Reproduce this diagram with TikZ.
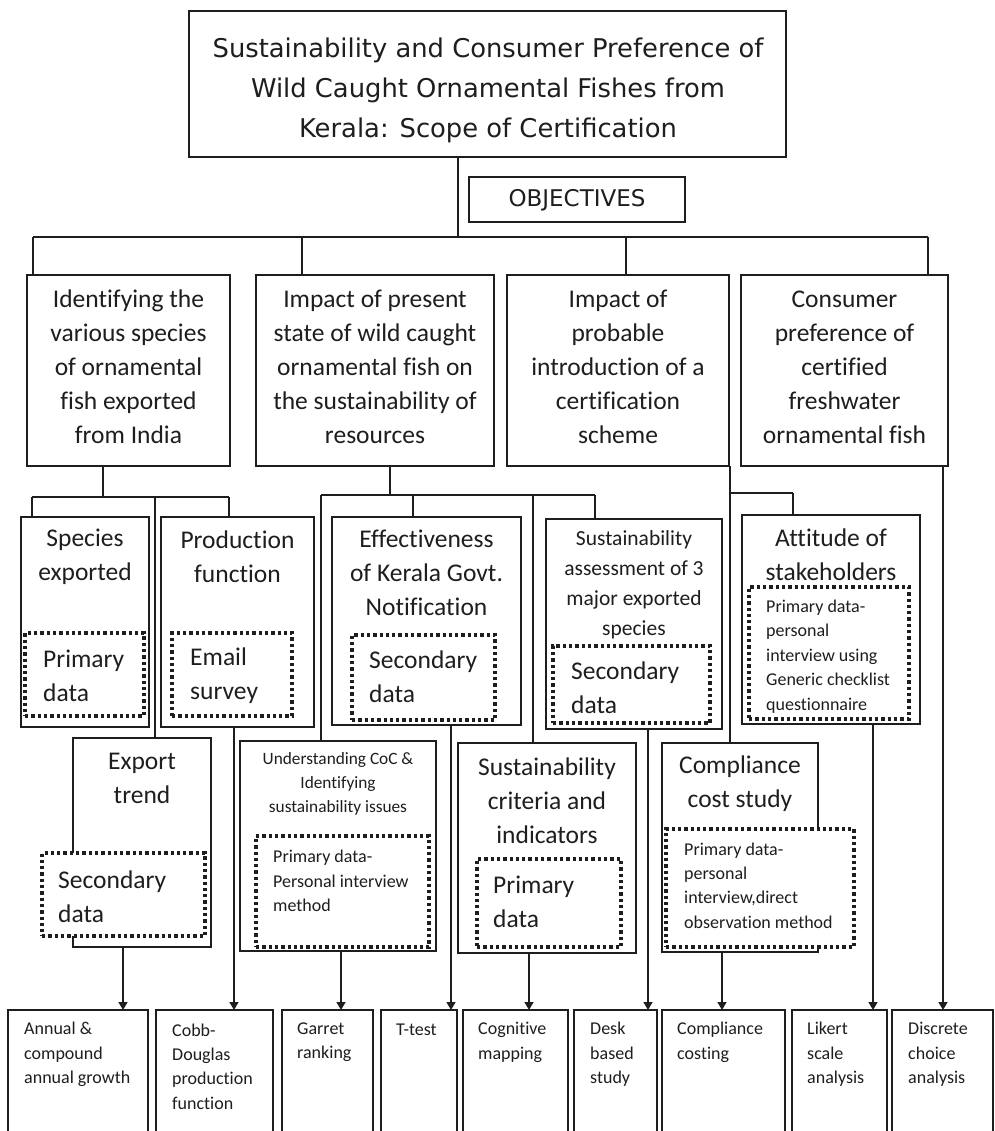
\documentclass[tikz,border=0pt]{standalone}
\usepackage{fontspec}
\setmainfont{Carlito}[Ligatures=NoCommon]
\newfontfamily\titlefont{DejaVu Sans}
\usetikzlibrary{arrows.meta}
\definecolor{ink}{HTML}{1E1E1E}
\newcommand\mybox[6][]{\node[bx,#1,minimum width={(#5-#3)*1pt},minimum height={(#6-#4)*1pt}] (#2) at ({(#3+#5)/2},{(#4+#6)/2}) {};}
\begin{document}
\begin{tikzpicture}[x=1pt,y=-1pt,
  bx/.style={draw=ink,line width=2.6pt,inner sep=0pt,outer sep=0pt,fill=white},
  dotbox/.style={draw=ink,line width=3.3pt,dash pattern=on 3.3pt off 3pt},
  con/.style={draw=ink,line width=1.4pt},
  arr/.style={con,-{Triangle[length=8pt,width=9pt]}},
  ttl/.style={font=\titlefont\fontsize{25.8}{40}\selectfont,text=ink,inner sep=0pt,align=center},
  big/.style={font=\fontsize{25.5}{34}\selectfont,text=ink,inner sep=0pt,align=center},
  bigl/.style={big,align=left,anchor=west},
  mid/.style={font=\fontsize{21.5}{30}\selectfont,text=ink,inner sep=0pt,align=center},
  sml/.style={font=\fontsize{17.3}{24}\selectfont,text=ink,inner sep=0pt,align=center},
  smll/.style={font=\fontsize{18}{24.4}\selectfont,text=ink,inner sep=0pt,align=left,anchor=west},
]
\useasboundingbox (0,0) rectangle (994,1131);

% ---------- boxes ----------
\mybox{T}{189}{11}{786}{157}
\mybox{OBJ}{469}{177}{685}{222}
\mybox{O1}{27}{275}{230}{466}
\mybox{O2}{256}{275}{494}{466}
\mybox{O3}{507}{275}{729}{466}
\mybox{O4}{741}{275}{948}{466}

\mybox{S1}{21}{517}{149}{727}
\mybox{S2}{161}{517}{314}{727}
\mybox{S3}{332}{517}{521}{725}
\mybox{S4}{546}{519}{722}{729}
\mybox{S5}{742}{515}{920}{724}
\mybox{E}{73}{738}{211}{947}
\mybox{U}{240}{741}{436}{951}
\mybox{C}{458}{743}{636}{953}
\mybox{K}{662}{743}{818}{952}

\mybox{B1}{8}{1010}{148}{1145}
\mybox{B2}{156}{1010}{273}{1145}
\mybox{B3}{282}{1010}{373}{1145}
\mybox{B4}{381}{1010}{457}{1145}
\mybox{B5}{463}{1010}{568}{1145}
\mybox{B6}{574}{1010}{657}{1145}
\mybox{B7}{662}{1010}{785}{1145}
\mybox{B8}{792}{1010}{887}{1145}
\mybox{B9}{892}{1010}{993}{1145}

% ---------- dotted boxes ----------
\mybox[dotbox]{D1}{25}{633}{144}{716}
\mybox[dotbox]{D2}{172}{633}{292}{716}
\mybox[dotbox]{D3}{352}{635}{495}{720}
\mybox[dotbox]{D4}{553}{646}{710}{723}
\mybox[dotbox]{D5}{749}{587}{909}{719}
\mybox[dotbox]{DE}{42}{853}{205}{936}
\mybox[dotbox]{DU}{256}{836}{429}{947}
\mybox[dotbox]{DC}{477}{859}{621}{947}
\mybox[dotbox]{DK}{666}{829}{854}{947}

% ---------- connector coordinates ----------
\coordinate (J0) at (458,237);
\coordinate (Ja) at (33,237);
\coordinate (Jb) at (302,237);
\coordinate (Jc) at (626,237);
\coordinate (Jd) at (928,237);
\coordinate (K1) at (103,497);
\coordinate (K1a) at (32,497);
\coordinate (K1m) at (155,497);
\coordinate (K1b) at (229,497);
\coordinate (K2) at (390,495);
\coordinate (K2a) at (321,495);
\coordinate (K2e) at (413,495);
\coordinate (K2c) at (533,495);
\coordinate (K2b) at (595,495);
\coordinate (K3) at (730,493);
\coordinate (K3b) at (793,493);
\coordinate (x1) at (123,0);
\coordinate (x2) at (234,0);
\coordinate (x3) at (341,0);
\coordinate (x4) at (451,0);
\coordinate (x5) at (529,0);
\coordinate (x6) at (648,0);
\coordinate (x7) at (722,0);
\coordinate (x8) at (873,0);
\coordinate (x9) at (943,0);

% ---------- connectors ----------
\draw[con] (T.south -| J0) -- (J0);
\draw[con] (Ja) -- (Jd);
\draw[con] (Ja) -- (Ja |- O1.north);
\draw[con] (Jb) -- (Jb |- O2.north);
\draw[con] (Jc) -- (Jc |- O3.north);
\draw[con] (Jd) -- (Jd |- O4.north);

\draw[con] (O1.south -| K1) -- (K1);
\draw[con] (K1a) -- (K1b);
\draw[con] (K1a) -- (K1a |- S1.north);
\draw[con] (K1b) -- (K1b |- S2.north);
\draw[con] (K1m) -- (K1m |- E.north);

\draw[con] (O2.south -| K2) -- (K2);
\draw[con] (K2a) -- (K2b);
\draw[con] (K2a) -- (K2a |- U.north);
\draw[con] (K2e) -- (K2e |- S3.north);
\draw[con] (K2c) -- (K2c |- C.north);
\draw[con] (K2b) -- (K2b |- S4.north);

\draw[con] (O3.south -| K3) -- (K3 |- K.north);
\draw[con] (K3) -- (K3b);
\draw[con] (K3b) -- (K3b |- S5.north);

\draw[arr] (E.south -| x1) -- (B1.north -| x1);
\draw[arr] (S2.south -| x2) -- (B2.north -| x2);
\draw[arr] (U.south -| x3) -- (B3.north -| x3);
\draw[arr] (S3.south -| x4) -- (B4.north -| x4);
\draw[arr] (C.south -| x5) -- (B5.north -| x5);
\draw[arr] (S4.south -| x6) -- (B6.north -| x6);
\draw[arr] (K.south -| x7) -- (B7.north -| x7);
\draw[arr] (S5.south -| x8) -- (B8.north -| x8);
\draw[arr] (O4.south -| x9) -- (B9.north -| x9);

% ---------- texts ----------
\node[ttl] (tT) at (488,90) {Sustainability and Consumer Preference of\\Wild Caught Ornamental Fishes from\\Kerala: Scope of Certification};
\node[ttl,font=\titlefont\fontsize{23}{28}\selectfont] (tOBJ) at (577,200) {OBJECTIVES};

\node[big] (tO1) at (128.5,367) {Identifying the\\various species\\of ornamental\\fish exported\\from India};
\node[big] (tO2) at (375,367) {Impact of present\\state of wild caught\\ornamental fish on\\the sustainability of\\resources};
\node[big] (tO3) at (618,367) {Impact of\\probable\\introduction of a\\certification\\scheme};
\node[big] (tO4) at (844.5,367) {Consumer\\preference of\\certified\\freshwater\\ornamental fish};

\node[big] (tS1) at (85,557) {Species\\exported};
\node[big] (tS2) at (237.5,557) {Production\\function};
\node[big] (tS3) at (426.5,573) {Effectiveness\\of Kerala Govt.\\Notification};
\node[mid] (tS4) at (634,585) {Sustainability\\assessment of 3\\major exported\\species};
\node[big] (tS5) at (831,555) {Attitude of\\stakeholders};
\node[big] (tE) at (142,778.5) {Export\\trend};
\node[sml] (tU) at (338,784) {Understanding CoC \&\\Identifying\\sustainability issues};
\node[big] (tC) at (547,801) {Sustainability\\criteria and\\indicators};
\node[big] (tK) at (740,783.5) {Compliance\\cost study};

\node[bigl] (tD1) at (43,675.5) {Primary\\data};
\node[bigl] (tD2) at (190,675.5) {Email\\survey};
\node[bigl] (tD3) at (369,677) {Secondary\\data};
\node[bigl] (tD4) at (571,687.5) {Secondary\\data};
\node[smll] (tD5) at (766,656.5) {Primary data-\\personal\\interview using\\Generic checklist\\questionnaire};
\node[bigl] (tDE) at (58,896.5) {Secondary\\data};
\node[smll] (tDU) at (273,881) {Primary data-\\Personal interview\\method};
\node[bigl] (tDC) at (493,901.5) {Primary\\data};
\node[smll] (tDK) at (684,885.5) {Primary data-\\personal\\interview,direct\\observation method};

\node[smll] (tB1) at (24,1054.4) {Annual \&\\compound\\annual growth};
\node[smll] (tB2) at (172,1066.6) {Cobb-\\Douglas\\production\\function};
\node[smll] (tB3) at (297,1042.2) {Garret\\ranking};
\node[smll] (tB4) at (396,1030) {T-test};
\node[smll] (tB5) at (478,1042.2) {Cognitive\\mapping};
\node[smll] (tB6) at (590,1054.4) {Desk\\based\\study};
\node[smll] (tB7) at (677,1042.2) {Compliance\\costing};
\node[smll] (tB8) at (807,1054.4) {Likert\\scale\\analysis};
\node[smll] (tB9) at (908,1054.4) {Discrete\\choice\\analysis};
\end{tikzpicture}
\end{document}
